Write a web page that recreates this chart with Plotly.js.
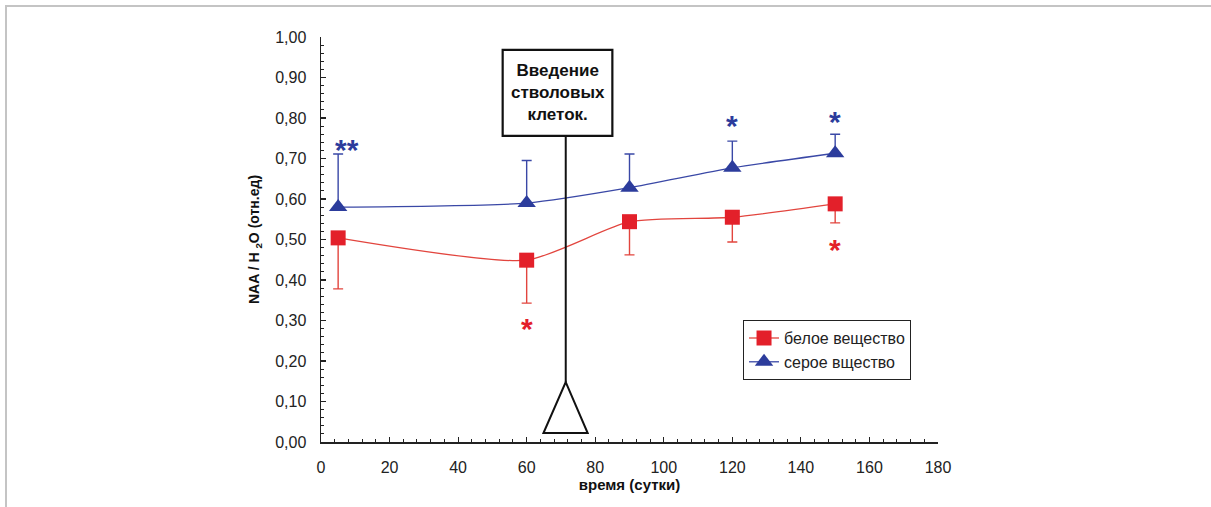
<!DOCTYPE html>
<html>
<head>
<meta charset="utf-8">
<script src="https://cdn.plot.ly/plotly-3.0.1.min.js"></script>
<style>
html,body{margin:0;padding:0;background:#fff;}
#frame{position:absolute;left:5px;top:5px;width:1206px;height:502px;border-top:2px solid #c4c4c4;border-left:2px solid #c4c4c4;box-sizing:border-box;}
#chart{position:absolute;left:0;top:0;width:1211px;height:507px;}
</style>
</head>
<body>
<div id="frame"></div>
<div id="chart"></div>
<script>
// Data
const days = [5, 60, 90, 120, 150];
const whiteMatter = [0.504, 0.449, 0.544, 0.555, 0.588];
const whiteErrMinus = [0.126, 0.106, 0.082, 0.061, 0.047];
const grayMatter = [0.580, 0.590, 0.628, 0.677, 0.713];
const grayErrPlus = [0.131, 0.105, 0.083, 0.066, 0.047];
const seriesNames = ['белое вещество', 'серое вщество'];
const boxText = 'Введение<br>стволовых<br>клеток.';
const xTitle = 'время (сутки)';
const yTitle = 'NAA / H <sub>2</sub>O (отн.ед)';
// significance marks: [x, y, text, series]
const starX = [7.5, 120, 150, 60, 150];
const starY = [0.722, 0.782, 0.792, 0.28, 0.475];
const starText = ['**', '*', '*', '*', '*'];
const starSeries = [1, 1, 1, 0, 0];

const red = '#e3202a';
const redLine = '#e2453e';
const blue = '#2c3c9c';
const blueLine = '#3a48a6';
const zeros = days.map(() => 0);

const traces = [
  {
    x: days, y: whiteMatter, name: seriesNames[0], type: 'scatter', mode: 'lines+markers',
    line: {color: redLine, width: 1.3, shape: 'spline', smoothing: 0.6},
    marker: {symbol: 'square', size: 15, color: red},
    error_y: {type: 'data', symmetric: false, array: zeros, arrayminus: whiteErrMinus,
      color: redLine, thickness: 1.4, width: 5}
  },
  {
    x: days, y: grayMatter, name: seriesNames[1], type: 'scatter', mode: 'lines+markers',
    line: {color: blueLine, width: 1.3, shape: 'spline', smoothing: 0.6},
    marker: {symbol: 'triangle-up', size: 16, color: blue},
    error_y: {type: 'data', symmetric: false, array: grayErrPlus, arrayminus: zeros,
      color: blueLine, thickness: 1.4, width: 5}
  }
];

const annotations = starX.map((x, i) => ({
  x: x, y: starY[i], xref: 'x', yref: 'y', text: '<b>' + starText[i] + '</b>', showarrow: false,
  font: {family: 'Liberation Sans, Arial, sans-serif', size: 30, color: starSeries[i] ? blue : red}
}));
annotations.push({
  x: 69, y: 0.862, xref: 'x', yref: 'y', text: '<b>' + boxText + '</b>', showarrow: false,
  font: {family: 'Liberation Sans Narrow, Liberation Sans, Arial, sans-serif', size: 17, color: '#111'},
  align: 'center'
});

const shapes = [
  {type: 'rect', xref: 'x', yref: 'y', x0: 53, x1: 85, y0: 0.756, y1: 0.968,
   line: {color: '#111', width: 2.2}, fillcolor: '#fff'},
  {type: 'line', xref: 'x', yref: 'y', x0: 71.4, x1: 71.4, y0: 0.148, y1: 0.756,
   line: {color: '#111', width: 2}},
  {type: 'path', xref: 'x', yref: 'y', path: 'M 71.4 0.148 L 77.8 0.022 L 64.9 0.022 Z',
   line: {color: '#111', width: 2}, fillcolor: 'rgba(0,0,0,0)'}
];

const tickFont = {family: 'Liberation Sans, Arial, sans-serif', size: 16, color: '#222'};

const layout = {
  width: 1211, height: 507,
  margin: {l: 321, r: 273, t: 37, b: 65},
  paper_bgcolor: 'rgba(0,0,0,0)', plot_bgcolor: 'rgba(0,0,0,0)',
  separators: ', ',
  showlegend: true,
  legend: {x: 0.684, y: 0.301, xanchor: 'left', yanchor: 'top',
    bordercolor: '#222', borderwidth: 1, bgcolor: '#fff',
    font: {family: 'Liberation Sans, Arial, sans-serif', size: 16, color: '#222'}},
  xaxis: {
    range: [0, 180], dtick: 20, tick0: 0, showgrid: false, zeroline: false,
    showline: true, linecolor: '#222', linewidth: 1.5,
    ticks: 'inside', ticklen: 5, tickwidth: 1.2, tickcolor: '#222',
    minor: {dtick: 4, ticks: 'inside', ticklen: 3, tickwidth: 1, tickcolor: '#222'},
    tickfont: tickFont, ticklabelstandoff: 10,
    title: {text: '<b>' + xTitle + '</b>', standoff: 2,
      font: {family: 'Liberation Sans, Arial, sans-serif', size: 15, color: '#111'}}
  },
  yaxis: {
    range: [0, 1], dtick: 0.1, tick0: 0, tickformat: '.2f', showgrid: false, zeroline: false,
    showline: true, linecolor: '#222', linewidth: 1.5,
    ticks: 'inside', ticklen: 5, tickwidth: 1.2, tickcolor: '#222',
    minor: {dtick: 0.02, ticks: 'inside', ticklen: 3, tickwidth: 1, tickcolor: '#222'},
    tickfont: tickFont, ticklabelstandoff: 10,
    title: {text: '<b>' + yTitle + '</b>', standoff: 12,
      font: {family: 'Liberation Sans, Arial, sans-serif', size: 14, color: '#111'}}
  },
  annotations: annotations,
  shapes: shapes
};

Plotly.newPlot('chart', traces, layout, {displayModeBar: false, staticPlot: true});
</script>
</body>
</html>
